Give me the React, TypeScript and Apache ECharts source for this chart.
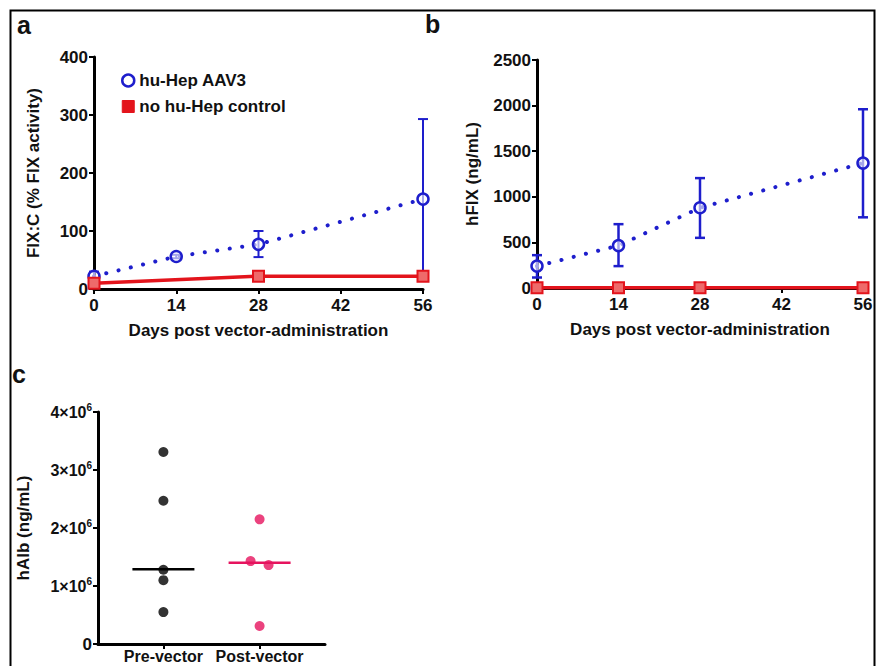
import React, { useEffect, useRef } from 'react';
import * as echarts from 'echarts';

// ---------- data ----------
const dayTicks = [0, 14, 28, 42, 56];

// panel a: FIX:C (% FIX activity)
const fixcBlueDays = [0, 14, 28, 56];
const fixcBlueMean = [22, 56, 77, 155];
const fixcBlueLow = [14, 53, 55, 20];
const fixcBlueHigh = [30, 59, 100, 293];
const fixcRedDays = [0, 28, 56];
const fixcRedMean = [10, 22, 22];

// panel b: hFIX (ng/mL)
const hfixDays = [0, 14, 28, 56];
const hfixBlueMean = [240, 465, 880, 1370];
const hfixBlueLow = [115, 240, 550, 775];
const hfixBlueHigh = [360, 700, 1205, 1960];
const hfixRedMean = [4, 4, 4, 4];

// panel c: hAlb (ng/mL)
const albCategories = ['Pre-vector', 'Post-vector'];
const albPre = [3.31e6, 2.47e6, 1.28e6, 1.1e6, 0.55e6];
const albPost = [2.15e6, 1.43e6, 1.36e6, 0.31e6];
const albMedians = [1.29e6, 1.4e6];

const seriesNames = ['hu-Hep AAV3', 'no hu-Hep control'];

// ---------- styles ----------
const FONT = '"Liberation Sans", Arial, Helvetica, sans-serif';
const BLUE = '#1e1ecc';
const RED = '#e3141c';
const PINK = '#e6135e';
const postJitter = [0, -9, 9, 0];

const App: React.FC = () => {
  const ref = useRef<HTMLDivElement>(null);

  useEffect(() => {
    document.body.style.margin = '0';
    if (!ref.current) return;
    const chart = echarts.init(ref.current, undefined, { renderer: 'svg' });

    const labelStyle = { fontSize: 17, fontWeight: 'bold' as const, color: '#111', fontFamily: FONT };
    const axisLine = { show: true, lineStyle: { color: '#000', width: 3 } };
    const axisTick = { show: true, length: 5, lineStyle: { color: '#000', width: 2 } };
    const plain = (v: number) => String(v);

    const errRender = (color: string, width: number) => (params: any, api: any) => {
      const x = api.value(0);
      const lo = api.coord([x, api.value(1)]);
      const hi = api.coord([x, api.value(2)]);
      const cw = 5;
      const style = { stroke: color, lineWidth: width };
      return {
        type: 'group',
        children: [
          { type: 'line', shape: { x1: hi[0], y1: hi[1], x2: lo[0], y2: lo[1] }, style },
          { type: 'line', shape: { x1: hi[0] - cw, y1: hi[1], x2: hi[0] + cw, y2: hi[1] }, style },
          { type: 'line', shape: { x1: lo[0] - cw, y1: lo[1], x2: lo[0] + cw, y2: lo[1] }, style },
        ],
      };
    };

    const medianColors = ['#000', PINK];
    const medianRender = (params: any, api: any) => {
      const p = api.coord([api.value(0), api.value(1)]);
      return {
        type: 'line',
        shape: { x1: p[0] - 31, y1: p[1], x2: p[0] + 31, y2: p[1] },
        style: { stroke: medianColors[params.dataIndex], lineWidth: 2.5 },
      };
    };

    const dottedLine = { color: BLUE, width: 4, type: [0.1, 12.5], cap: 'round' as const };

    const option: any = {
      animation: false,
      backgroundColor: '#fff',
      textStyle: { fontFamily: FONT },
      grid: [
        { left: 94, top: 57, width: 329, height: 232, outerBoundsMode: 'none', containLabel: false },
        { left: 537, top: 60, width: 326, height: 228, outerBoundsMode: 'none', containLabel: false },
        { left: 98, top: 412, width: 227, height: 232, outerBoundsMode: 'none', containLabel: false },
      ],
      legend: {
        left: 116,
        top: 67,
        orient: 'vertical',
        itemWidth: 12,
        itemHeight: 12,
        itemGap: 9,
        textStyle: { ...labelStyle, fontSize: 17 },
        data: [
          { name: seriesNames[0], icon: 'circle', itemStyle: { color: '#fff', borderColor: BLUE, borderWidth: 2.5 } },
          { name: seriesNames[1], icon: 'rect', itemStyle: { color: RED, borderColor: RED, borderWidth: 1 } },
        ],
      },
      xAxis: [
        {
          type: 'value', gridIndex: 0, min: 0, max: 56, interval: 14,
          name: 'Days post vector-administration', nameLocation: 'middle', nameGap: 33,
          nameTextStyle: labelStyle, axisLine, axisTick,
          axisLabel: { ...labelStyle, margin: 8, formatter: plain }, splitLine: { show: false },
        },
        {
          type: 'value', gridIndex: 1, min: 0, max: 56, interval: 14,
          name: 'Days post vector-administration', nameLocation: 'middle', nameGap: 33,
          nameTextStyle: labelStyle, axisLine, axisTick,
          axisLabel: { ...labelStyle, margin: 8, formatter: plain }, splitLine: { show: false },
        },
        {
          type: 'value', gridIndex: 2, min: 0.32, max: 2.68,
          axisLine, axisTick: { ...axisTick, customValues: [1, 2] },
          axisLabel: {
            ...labelStyle, fontSize: 16, margin: 4, customValues: [1, 2],
            formatter: (v: number) => albCategories[Math.round(v) - 1] ?? '',
          },
          splitLine: { show: false },
        },
      ],
      yAxis: [
        {
          type: 'value', gridIndex: 0, min: 0, max: 400, interval: 100,
          name: 'FIX:C (% FIX activity)', nameLocation: 'middle', nameGap: 52,
          nameTextStyle: labelStyle, axisLine, axisTick,
          axisLabel: { ...labelStyle, margin: 6, formatter: plain }, splitLine: { show: false },
        },
        {
          type: 'value', gridIndex: 1, min: 0, max: 2500, interval: 500,
          name: 'hFIX (ng/mL)', nameLocation: 'middle', nameGap: 56,
          nameTextStyle: labelStyle, axisLine, axisTick,
          axisLabel: { ...labelStyle, margin: 6, formatter: plain }, splitLine: { show: false },
        },
        {
          type: 'value', gridIndex: 2, min: 0, max: 4e6, interval: 1e6,
          name: 'hAlb (ng/mL)', nameLocation: 'middle', nameGap: 66,
          nameTextStyle: labelStyle, axisLine, axisTick,
          axisLabel: {
            ...labelStyle, margin: 6,
            formatter: (v: number) => (v === 0 ? '0' : `{m|${Math.round(v / 1e6)}×10}{s|6}`),
            rich: {
              m: { fontSize: 16, fontWeight: 'bold', fontFamily: FONT, color: '#111' },
              s: { fontSize: 10, fontWeight: 'bold', fontFamily: FONT, color: '#111', padding: [0, 0, 9, 0] },
            },
          },
          splitLine: { show: false },
        },
      ],
      series: [
        // panel a
        {
          type: 'custom', xAxisIndex: 0, yAxisIndex: 0, renderItem: errRender(BLUE, 2),
          data: fixcBlueDays.map((d, i) => [d, fixcBlueLow[i], fixcBlueHigh[i]]), z: 2, silent: true,
        },
        {
          name: seriesNames[0], type: 'line', xAxisIndex: 0, yAxisIndex: 0,
          data: fixcBlueDays.map((d, i) => [d, fixcBlueMean[i]]),
          lineStyle: dottedLine, symbol: 'circle', symbolSize: 11,
          itemStyle: { color: 'rgba(255,255,255,0.6)', borderColor: BLUE, borderWidth: 2.5 }, z: 3,
        },
        {
          name: seriesNames[1], type: 'line', xAxisIndex: 0, yAxisIndex: 0,
          data: fixcRedDays.map((d, i) => [d, fixcRedMean[i]]),
          lineStyle: { color: RED, width: 3.5 }, symbol: 'rect', symbolSize: 11,
          itemStyle: { color: '#ee6a6a', borderColor: RED, borderWidth: 2 }, z: 4,
        },
        // panel b
        {
          type: 'custom', xAxisIndex: 1, yAxisIndex: 1, renderItem: errRender(BLUE, 2.5),
          data: hfixDays.map((d, i) => [d, hfixBlueLow[i], hfixBlueHigh[i]]), z: 2, silent: true,
        },
        {
          name: seriesNames[0], type: 'line', xAxisIndex: 1, yAxisIndex: 1,
          data: hfixDays.map((d, i) => [d, hfixBlueMean[i]]),
          lineStyle: dottedLine, symbol: 'circle', symbolSize: 11,
          itemStyle: { color: 'rgba(255,255,255,0.6)', borderColor: BLUE, borderWidth: 2.5 }, z: 3,
        },
        {
          name: seriesNames[1], type: 'line', xAxisIndex: 1, yAxisIndex: 1,
          data: hfixDays.map((d, i) => [d, hfixRedMean[i]]),
          lineStyle: { color: RED, width: 3.5 }, symbol: 'rect', symbolSize: 11,
          itemStyle: { color: '#ee6a6a', borderColor: RED, borderWidth: 2 }, z: 4,
        },
        // panel c
        {
          type: 'scatter', xAxisIndex: 2, yAxisIndex: 2, symbolSize: 10,
          itemStyle: { color: '#000' },
          data: albPre.map((v) => [1, v]),
        },
        {
          type: 'scatter', xAxisIndex: 2, yAxisIndex: 2, symbolSize: 10,
          itemStyle: { color: PINK },
          data: albPost.map((v, i) => ({ value: [2, v], symbolOffset: [postJitter[i], 0] })),
        },
        {
          type: 'custom', xAxisIndex: 2, yAxisIndex: 2, renderItem: medianRender,
          data: albMedians.map((v, i) => [i + 1, v]), silent: true, z: 3,
        },
      ],
      graphic: [
        {
          type: 'rect', silent: true, z: 100,
          shape: { x: 10.5, y: 10.5, width: 864, height: 700 },
          style: { fill: 'none', stroke: '#000', lineWidth: 2 },
        },
        { type: 'text', left: 17, top: 12, style: { text: 'a', fontSize: 25, fontWeight: 'bold', fontFamily: FONT, fill: '#111' } },
        { type: 'text', left: 425, top: 11, style: { text: 'b', fontSize: 25, fontWeight: 'bold', fontFamily: FONT, fill: '#111' } },
        { type: 'text', left: 12, top: 361, style: { text: 'c', fontSize: 25, fontWeight: 'bold', fontFamily: FONT, fill: '#111' } },
      ],
    };

    chart.setOption(option);
    return () => chart.dispose();
  }, []);

  return <div ref={ref} style={{ width: 882, height: 666 }} />;
};

export default App;
